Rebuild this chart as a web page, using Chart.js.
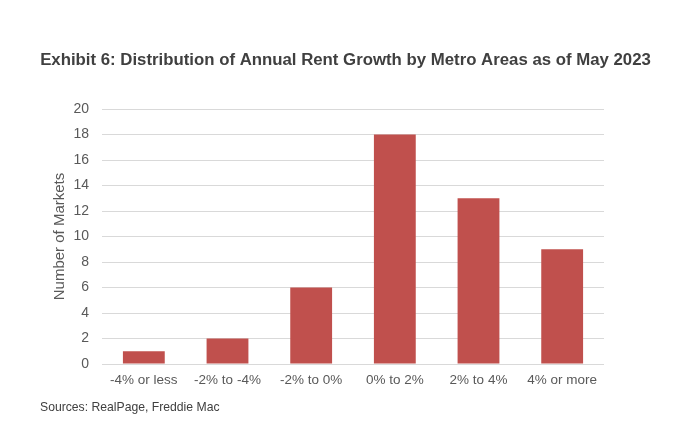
<!DOCTYPE html>
<html>
<head>
<meta charset="utf-8">
<script src="https://cdn.jsdelivr.net/npm/chart.js@4"></script>
<style>
  html, body { margin: 0; padding: 0; background: #ffffff; }
  #wrap { position: relative; width: 700px; height: 437px; }
</style>
</head>
<body>
<div id="wrap"><canvas id="c" width="700" height="437"></canvas></div>
<script>
const titleText = "Exhibit 6: Distribution of Annual Rent Growth by Metro Areas as of May 2023";
const sourceText = "Sources: RealPage, Freddie Mac";
const yAxisTitle = "Number of Markets";
const categories = ["-4% or less", "-2% to -4%", "-2% to 0%", "0% to 2%", "2% to 4%", "4% or more"];
const marketCounts = [1, 2, 6, 18, 13, 9];
const yTicks = [0, 2, 4, 6, 8, 10, 12, 14, 16, 18, 20];

const textPlugin = {
  id: 'textPlugin',
  afterDraw(chart) {
    const ctx = chart.ctx;
    ctx.save();
    ctx.fillStyle = '#404040';
    ctx.font = 'bold 16.8px "Liberation Sans", Arial, sans-serif';
    ctx.textAlign = 'center';
    ctx.textBaseline = 'middle';
    ctx.fillText(titleText, 345.5, 60);
    ctx.font = '12.2px "Liberation Sans", Arial, sans-serif';
    ctx.textAlign = 'left';
    ctx.fillStyle = '#404040';
    ctx.fillText(sourceText, 40, 408);
    ctx.restore();
  }
};

new Chart(document.getElementById('c'), {
  type: 'bar',
  data: {
    labels: categories,
    datasets: [{
      data: marketCounts,
      backgroundColor: '#C0504D',
      borderWidth: 0,
      barPercentage: 0.5,
      categoryPercentage: 1.0
    }]
  },
  options: {
    responsive: false,
    animation: false,
    devicePixelRatio: 1,
    layout: { padding: { top: 109, left: 0, right: 96, bottom: 43 } },
    plugins: { legend: { display: false }, tooltip: { enabled: false }, title: { display: false } },
    scales: {
      x: {
        grid: { display: false, drawTicks: false },
        border: { display: false },
        ticks: {
          color: '#595959',
          font: { family: '"Liberation Sans", Arial, sans-serif', size: 13.5 },
          padding: 8,
          maxRotation: 0
        },
        afterFit(s) { s.height = 30; }
      },
      y: {
        min: 0,
        max: 20,
        afterBuildTicks(s) { s.ticks = yTicks.map(v => ({ value: v })); },
        grid: { color: '#d9d9d9', lineWidth: 1, drawTicks: false },
        border: { display: false },
        ticks: {
          color: '#595959',
          font: { family: '"Liberation Sans", Arial, sans-serif', size: 14 },
          padding: 13
        },
        title: {
          display: true,
          text: yAxisTitle,
          color: '#595959',
          font: { family: '"Liberation Sans", Arial, sans-serif', size: 15 },
          padding: { top: 51, bottom: 0 }
        },
        afterFit(s) { s.width = 102; }
      }
    }
  },
  plugins: [textPlugin]
});
</script>
</body>
</html>
